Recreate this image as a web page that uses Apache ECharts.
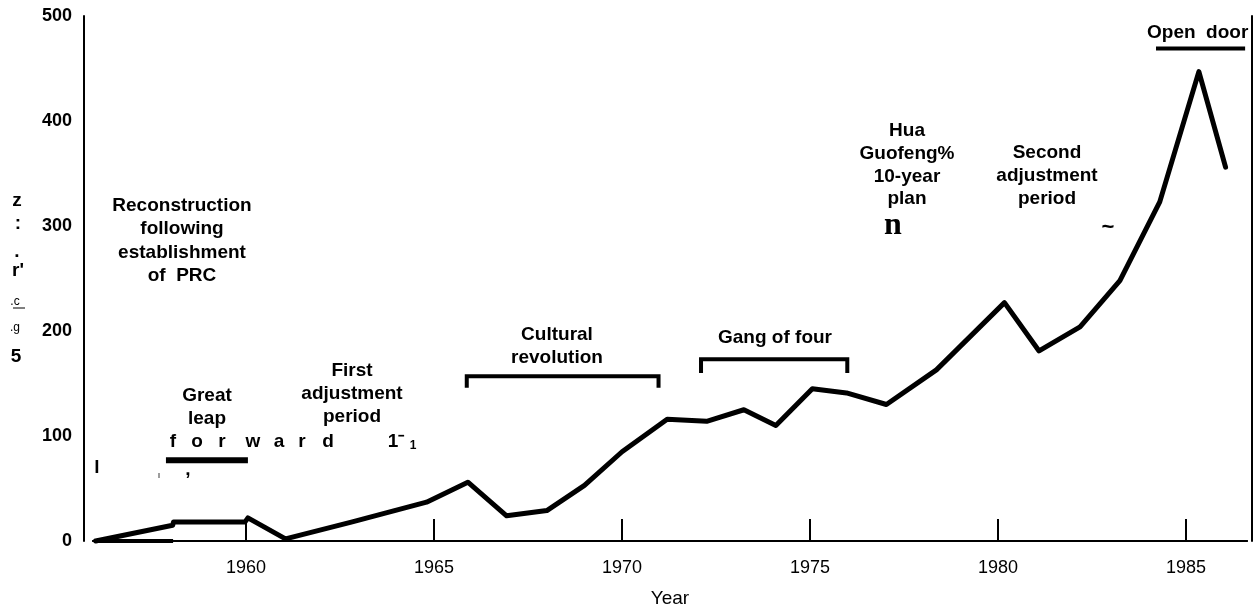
<!DOCTYPE html>
<html>
<head>
<meta charset="utf-8">
<script src="https://cdn.jsdelivr.net/npm/echarts@6/dist/echarts.min.js"></script>
<style>
  body { margin: 0; background: #fff; }
  #chart { width: 1253px; height: 609px; }
</style>
</head>
<body>
<div id="chart"></div>
<script>
// line data (year positions as drawn)
var years = [1956, 1958.05, 1958.07, 1959.97, 1960.05, 1961.05, 1962.8, 1964.8, 1965.9, 1966.93,
             1968.0, 1969.0, 1970.0, 1971.2, 1972.25, 1973.24, 1974.09, 1975.06, 1975.97, 1977.03,
             1978.36, 1980.17, 1981.09, 1982.18, 1983.24, 1984.3, 1985.34, 1986.05];
var values = [0, 15, 18, 18, 22, 2, 18, 37, 56, 24,
              29, 53, 85, 116, 114, 125, 110, 145, 141, 130,
              163, 227, 181, 204, 248, 323, 447, 356];

// period brackets / bars, [year, value]
var reconstructionBar = [[1956, 0], [1958.06, 0]];
var greatLeapBar = [[1957.87, 77], [1960.05, 77]];
var culturalBracket = [[1965.87, 146], [1965.87, 157], [1970.97, 157], [1970.97, 146]];
var gangBracket = [[1972.1, 160], [1972.1, 173], [1975.99, 173], [1975.99, 160]];
var openDoorBar = [[1984.2, 469], [1986.57, 469]];

var xTicks = [1960, 1965, 1970, 1975, 1980, 1985];
var xMin = 1955.93, xMax = 1986.62;

var chart = echarts.init(document.getElementById('chart'));

var boldFont = 'bold 19px "Liberation Sans", Arial, sans-serif';

function pairs(xs, ys) {
    var out = [];
    for (var i = 0; i < xs.length; i++) out.push([xs[i], ys[i]]);
    return out;
}

function bracket(data, w) {
    return {
        type: 'line', data: data, symbol: 'none', clip: false, silent: true,
        lineStyle: { color: '#000', width: w, cap: 'butt', join: 'miter' }
    };
}

function txt(text, x, y, font, extra) {
    var style = {
        text: text, x: x, y: y, font: font || boldFont, fill: '#000',
        align: 'center', verticalAlign: 'middle'
    };
    if (extra) for (var k in extra) style[k] = extra[k];
    return { type: 'text', z: 10, style: style };
}

var graphics = [
    txt('Reconstruction\nfollowing\nestablishment\nof  PRC', 182, 241, null, { lineHeight: 23.5 }),
    txt('Great\nleap', 207, 407, null, { lineHeight: 23 }),
    txt('First\nadjustment\nperiod', 352, 394, null, { lineHeight: 23 }),
    txt('Cultural\nrevolution', 557, 346, null, { lineHeight: 23 }),
    txt('Gang of four', 775, 338),
    txt('Hua\nGuofeng%\n10-year\nplan', 907, 165, null, { lineHeight: 22.7 }),
    txt('Second\nadjustment\nperiod', 1047, 176, null, { lineHeight: 23 }),
    txt('Open  door', 1147, 33, null, { align: 'left' }),
    txt('n', 893, 226, 'bold 32px "Liberation Serif", serif'),
    txt('~', 1108, 228, 'bold 22px "Liberation Sans", Arial, sans-serif'),
    txt('1\u207B', 396, 442),
    txt('1', 413, 446, 'bold 12px "Liberation Sans", Arial, sans-serif'),
    txt('l', 97, 468),
    txt('\u0131', 159, 476, '9px "Liberation Sans", Arial, sans-serif'),
    txt(',', 188, 470),
    // scanned y-axis title remnants
    txt('z', 17, 201),
    txt(':', 18, 224),
    txt('.', 17, 252),
    txt("r'", 18, 271),
    txt('.c', 15, 302, '12px "Liberation Sans", Arial, sans-serif'),
    { type: 'line', z: 10, shape: { x1: 13, y1: 308, x2: 25, y2: 308 }, style: { stroke: '#000', lineWidth: 1 } },
    txt('.g', 15, 328, '12px "Liberation Sans", Arial, sans-serif'),
    txt('5', 16, 357)
];

// spaced out "forward"
var fwdX = [173, 197, 222, 253, 279, 302, 328];
'forward'.split('').forEach(function (ch, i) {
    graphics.push(txt(ch, fwdX[i], 442));
});

var option = {
    backgroundColor: '#fff',
    animation: false,
    grid: { left: 93, right: 6, top: 16, bottom: 68, outerBoundsMode: 'none' },
    xAxis: [{
        type: 'value', min: xMin, max: xMax,
        name: 'Year', nameLocation: 'middle', nameGap: 48,
        nameTextStyle: { color: '#000', fontSize: 19, fontFamily: 'Liberation Sans' },
        axisLine: { show: true, lineStyle: { color: '#000', width: 2 } },
        axisTick: { show: true, inside: true, length: 22, customValues: xTicks,
                    lineStyle: { color: '#000', width: 2 } },
        axisLabel: { customValues: xTicks, color: '#000', fontSize: 18, margin: 18,
                     fontFamily: 'Liberation Sans',
                     formatter: function (v) { return String(v); } },
        splitLine: { show: false }
    }, {
        type: 'value', min: xMin, max: xMax, position: 'top',
        axisLine: { show: true, lineStyle: { color: '#000', width: 2 } },
        axisTick: { show: false }, axisLabel: { show: false }, splitLine: { show: false }
    }],
    yAxis: [{
        type: 'value', min: 0, max: 500, interval: 100, offset: 9,
        axisLine: { show: true, lineStyle: { color: '#000', width: 2 } },
        axisTick: { show: false },
        axisLabel: { color: '#000', fontSize: 18, fontWeight: 'bold', margin: 12,
                     fontFamily: 'Liberation Sans' },
        splitLine: { show: false }
    }, {
        type: 'value', min: 0, max: 500, position: 'right', offset: 5,
        axisLine: { show: true, lineStyle: { color: '#000', width: 2 } },
        axisTick: { show: false }, axisLabel: { show: false }, splitLine: { show: false }
    }],
    series: [
        {
            type: 'line', data: pairs(years, values), symbol: 'none', silent: true, clip: false,
            lineStyle: { color: '#000', width: 5, cap: 'round', join: 'round' }
        },
        bracket(reconstructionBar, 4),
        bracket(greatLeapBar, 6),
        bracket(culturalBracket, 4),
        bracket(gangBracket, 4),
        bracket(openDoorBar, 4)
    ],
    graphic: graphics
};

chart.setOption(option);
</script>
</body>
</html>
